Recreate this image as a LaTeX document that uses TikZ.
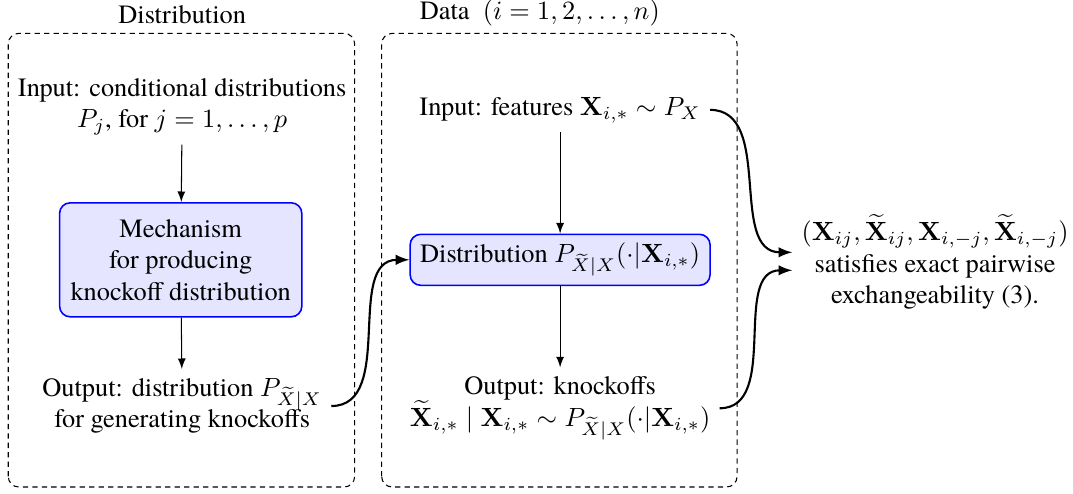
\documentclass[tikz,border=0pt]{standalone}
\usepackage[no-math]{fontspec}
\setmainfont{TeX Gyre Termes}
\usepackage{amsmath}
\begin{document}
\begin{tikzpicture}[
    grp/.style={draw, dash pattern=on 2pt off 1.6pt, rounded corners=4pt},
    blk/.style={draw=blue, semithick, fill=blue!10, rounded corners=4pt, align=center},
    flow/.style={-latex, thick},
  ]
      \useasboundingbox (0,0) rectangle (14.31,6.575);
      % the two dashed groups
      \draw[grp] (0.11,0.08) rectangle (4.73,6.13);
      \draw[grp] (5.09,0.08) rectangle (9.83,6.13);
      \draw
        (2.43,6.38) node (t1){Distribution}
        (7.20,6.40) node (t2){Data\ \ $(i=1,2,\ldots,n)$}
        (2.43,5.15) node[align=center] (in1){Input: conditional distributions\\$P_j$, for $j=1,\ldots,p$}
        (2.41,3.11) node[blk, minimum width=3.23cm, minimum height=1.52cm] (mech){Mechanism\\for producing\\knockoff distribution}
        (2.43,1.16) node[align=center] (out1){Output: distribution $P_{\widetilde{X}|X}$\\for generating knockoffs}
        (7.47,5.11) node (in2){Input: features $\mathbf{X}_{i,*}\sim P_X$}
        (7.47,3.11) node[blk, minimum width=4.0cm, minimum height=0.68cm] (dist){Distribution $P_{\widetilde{X}|X}(\cdot|\mathbf{X}_{i,*})$}
        (7.47,1.13) node[align=center] (out2){Output: knockoffs\\$\widetilde{\mathbf{X}}_{i,*}\mid\mathbf{X}_{i,*}\sim P_{\widetilde{X}|X}(\cdot|\mathbf{X}_{i,*})$}
        (12.47,3.08) node[align=center] (res){$(\mathbf{X}_{ij},\widetilde{\mathbf{X}}_{ij},\mathbf{X}_{i,-j},\widetilde{\mathbf{X}}_{i,-j})$\\satisfies exact pairwise\\exchangeability (3).};
      \coordinate (r1) at ([yshift=0.13cm]res.west);
      \coordinate (r2) at ([yshift=-0.11cm]res.west);
      \begin{scope}[-latex]
        \draw (in1) to (mech);
        \draw (mech) to (out1);
        \draw (in2) to (dist);
        \draw (dist) to (out2);
      \end{scope}
      \begin{scope}[flow]
        \draw (out1.east) to[out=0, in=180] (dist.west);
        \draw (in2.east) to[out=0, in=180] (r1);
        \draw (out2.east) to[out=0, in=180] (r2);
      \end{scope}
    \end{tikzpicture}
\end{document}
